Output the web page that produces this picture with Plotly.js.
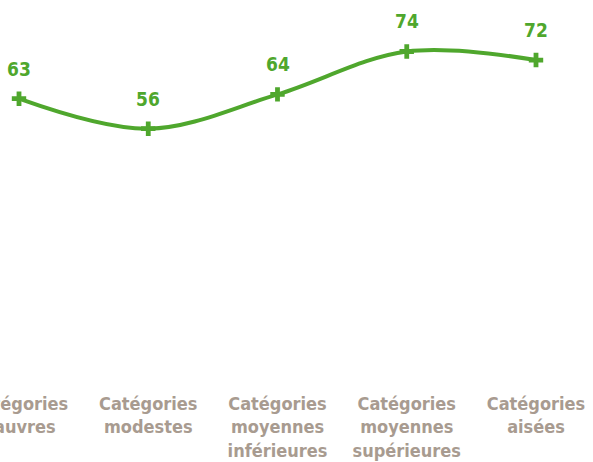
<!DOCTYPE html>
<html>
<head>
<meta charset="utf-8">
<script src="https://cdn.plot.ly/plotly-3.0.1.min.js"></script>
<style>html,body{margin:0;padding:0;background:#fff;}#chart{width:593px;height:462px;}</style>
</head>
<body>
<div id="chart"></div>
<script>
const categories = [
  "Catégories<br>pauvres",
  "Catégories<br>modestes",
  "Catégories<br>moyennes<br>inférieures",
  "Catégories<br>moyennes<br>supérieures",
  "Catégories<br>aisées"
];
const values = [63, 56, 64, 74, 72];
const valueLabels = ["63", "56", "64", "74", "72"];

const green = "#4fa72d";
const labelColor = "#a89b90";
const fontFam = "'DejaVu Sans Condensed', 'DejaVu Sans', Lato, sans-serif";

const trace = {
  x: categories,
  y: values,
  type: "scatter",
  mode: "lines+markers",
  line: {color: green, width: 4, shape: "spline", smoothing: 1},
  marker: {symbol: "cross", size: 12, color: green},
  cliponaxis: false,
  hoverinfo: "none"
};

const annotations = categories.map((c, i) => ({
  x: c, y: values[i], xref: "x", yref: "y",
  text: valueLabels[i],
  showarrow: false,
  yanchor: "bottom",
  yshift: 17,
  font: {family: fontFam, size: 19, color: green, weight: "bold"}
}));

const layout = {
  width: 593, height: 462,
  margin: {l: 0, r: 0, t: 0, b: 93, pad: 0},
  paper_bgcolor: "#fff", plot_bgcolor: "#fff",
  showlegend: false,
  annotations: annotations,
  xaxis: {
    type: "category",
    range: [-0.147, 4.441],
    showgrid: false, zeroline: false, showline: false, ticks: "",
    tickfont: {family: fontFam, size: 18, color: labelColor, weight: "bold"},
    ticklabelstandoff: 22
  },
  yaxis: {
    range: [0, 86],
    visible: false, showgrid: false, zeroline: false
  }
};

Plotly.newPlot("chart", [trace], layout, {staticPlot: true, displayModeBar: false});
</script>
</body>
</html>
